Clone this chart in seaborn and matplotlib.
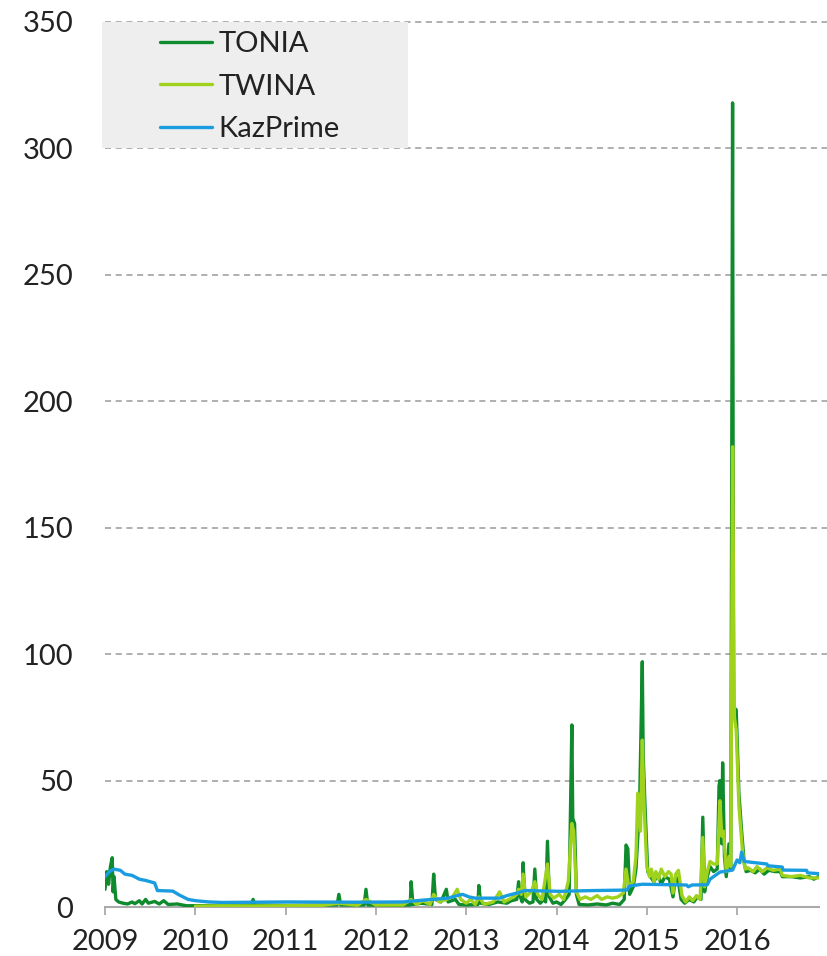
import pandas as pd
import numpy as np
import matplotlib
matplotlib.use("Agg")
import matplotlib.pyplot as plt
from matplotlib.patches import Rectangle
import seaborn as sns

# decimal years and rates
tonia_x = [2009.00, 2009.02, 2009.04, 2009.06, 2009.08, 2009.09, 2009.10, 2009.12, 2009.15, 2009.20,
           2009.25, 2009.30, 2009.33, 2009.38, 2009.41, 2009.45, 2009.48, 2009.55, 2009.60, 2009.65,
           2009.70, 2009.80, 2009.90, 2010.00, 2010.30, 2010.62, 2010.64, 2010.66, 2011.00, 2011.30,
           2011.57, 2011.59, 2011.61, 2011.87, 2011.89, 2011.91, 2012.20, 2012.38, 2012.39, 2012.41,
           2012.50, 2012.62, 2012.64, 2012.66, 2012.72, 2012.78, 2012.80, 2012.88, 2012.92, 2013.00,
           2013.13, 2013.14, 2013.16, 2013.25, 2013.35, 2013.45, 2013.50, 2013.56, 2013.58, 2013.60,
           2013.62, 2013.63, 2013.65, 2013.70, 2013.74, 2013.76, 2013.78, 2013.82, 2013.86, 2013.88,
           2013.90, 2013.92, 2013.96, 2014.00, 2014.05, 2014.10, 2014.14, 2014.17, 2014.18, 2014.20,
           2014.22, 2014.25, 2014.35, 2014.45, 2014.55, 2014.62, 2014.70, 2014.75, 2014.77, 2014.79,
           2014.81, 2014.85, 2014.88, 2014.92, 2014.95, 2014.96, 2014.98, 2015.01, 2015.04, 2015.08,
           2015.12, 2015.16, 2015.20, 2015.25, 2015.29, 2015.32, 2015.35, 2015.38, 2015.42, 2015.47,
           2015.52, 2015.56, 2015.60, 2015.62, 2015.64, 2015.67, 2015.70, 2015.74, 2015.78, 2015.80,
           2015.81, 2015.83, 2015.84, 2015.86, 2015.88, 2015.91, 2015.93, 2015.95, 2015.96, 2015.99,
           2016.02, 2016.05, 2016.08, 2016.10, 2016.15, 2016.20, 2016.25, 2016.30, 2016.35, 2016.42,
           2016.48, 2016.50, 2016.60, 2016.70, 2016.80, 2016.85, 2016.90]
tonia_y = [7, 14, 9, 16, 19.5, 6, 12, 3, 2, 1.5,
           1.2, 2, 1.3, 2.5, 1.2, 3, 1.5, 2.2, 1.2, 2.5,
           1, 1.2, 0.5, 0.5, 0.6, 0.8, 3, 0.8, 0.6, 0.7,
           0.8, 5, 0.8, 0.8, 7, 0.8, 0.7, 0.8, 10, 1,
           1.5, 1, 13, 3, 2, 7, 2, 3, 1, 0.8,
           1, 8.5, 1.5, 1, 2, 1.5, 2.5, 3, 10, 4,
           2, 17.5, 3, 1.5, 2, 15, 3, 1.5, 3, 2,
           26, 4, 1.5, 2, 1, 3, 5, 72, 35, 33,
           5, 1, 0.8, 1.2, 0.8, 1.5, 1, 3, 24.5, 23,
           5, 8, 15, 40, 97, 60, 40, 14, 12, 10,
           13, 9, 12, 11, 4, 12, 10, 3, 1.5, 3,
           2, 4, 3, 35.5, 6, 12, 16, 14, 15, 48,
           50, 25, 57, 20, 12, 25, 15, 318, 79, 78,
           45, 30, 17, 14, 14.5, 13.5, 15, 13, 14.5, 14,
           14, 12, 12, 11.5, 12, 11, 12]

twina_x = [2010.00, 2010.30, 2010.60, 2011.00, 2011.40, 2011.59, 2011.80, 2011.89, 2012.00, 2012.30,
           2012.39, 2012.45, 2012.52, 2012.60, 2012.64, 2012.70, 2012.78, 2012.85, 2012.90, 2012.94,
           2013.00, 2013.05, 2013.10, 2013.14, 2013.20, 2013.30, 2013.37, 2013.42, 2013.50, 2013.56,
           2013.58, 2013.61, 2013.63, 2013.66, 2013.72, 2013.76, 2013.79, 2013.84, 2013.90, 2013.93,
           2013.97, 2014.03, 2014.08, 2014.13, 2014.17, 2014.19, 2014.22, 2014.26, 2014.32, 2014.38,
           2014.45, 2014.50, 2014.56, 2014.62, 2014.68, 2014.74, 2014.77, 2014.80, 2014.85, 2014.88,
           2014.90, 2014.93, 2014.95, 2014.97, 2015.00, 2015.03, 2015.05, 2015.08, 2015.10, 2015.13,
           2015.16, 2015.20, 2015.24, 2015.27, 2015.29, 2015.32, 2015.35, 2015.39, 2015.43, 2015.47,
           2015.51, 2015.55, 2015.59, 2015.62, 2015.64, 2015.67, 2015.70, 2015.74, 2015.78, 2015.81,
           2015.83, 2015.85, 2015.88, 2015.91, 2015.93, 2015.95, 2015.97, 2015.99, 2016.02, 2016.06,
           2016.09, 2016.12, 2016.18, 2016.22, 2016.28, 2016.33, 2016.40, 2016.48, 2016.50, 2016.60,
           2016.70, 2016.80, 2016.90]
twina_y = [0.3, 0.5, 0.4, 0.5, 0.6, 1.5, 0.7, 3, 0.8, 0.8,
           3, 1, 2.5, 1, 5, 2, 3, 4, 7, 3,
           1.5, 3, 1, 4, 1, 2, 6, 2, 3.5, 5,
           7, 5, 13, 4, 6, 10, 5, 3, 17, 5,
           3.5, 5, 3, 10, 33, 30, 6, 3, 4, 3,
           4.5, 3, 4, 3.5, 4, 5.5, 15, 8, 10, 20,
           45, 30, 66, 40, 16, 12, 15, 10, 14, 11,
           15, 12, 14, 13, 5.5, 13, 14.5, 4.5, 2, 4,
           2.5, 4.5, 3, 27.5, 8, 14, 18, 17, 17, 42,
           28, 30, 14, 20, 16, 182, 75, 70, 40, 22,
           15, 15.5, 14, 16, 14, 15.5, 14.5, 15, 12.5, 12,
           12.5, 11.5, 11.5]

kazprime_x = [2009.00, 2009.05, 2009.10, 2009.17, 2009.22, 2009.30, 2009.38, 2009.45, 2009.55, 2009.58,
              2009.75, 2009.82, 2009.92, 2010.00, 2010.15, 2010.30, 2011.00, 2011.80, 2012.30, 2012.55,
              2012.80, 2012.90, 2012.96, 2013.03, 2013.10, 2013.37, 2013.45, 2013.56, 2013.65, 2014.04,
              2014.40, 2014.78, 2014.81, 2014.95, 2015.44, 2015.46, 2015.50, 2015.67, 2015.70, 2015.81,
              2015.95, 2016.00, 2016.03, 2016.05, 2016.08, 2016.33, 2016.34, 2016.50, 2016.51, 2016.77,
              2016.78, 2016.90]
kazprime_y = [12, 14, 15, 14.5, 13, 12.5, 11, 10.5, 9.5, 6.5,
              6.3, 4.8, 3, 2.5, 2, 1.8, 2, 1.9, 2, 2.8,
              3.5, 4.5, 5, 4, 3.5, 3.5, 4.5, 5.5, 6.5, 6.2,
              6.5, 6.7, 8.3, 9, 8.7, 8, 8.7, 8.8, 11, 13.8,
              14.6, 18.6, 17.5, 21.7, 18, 17, 16.3, 15.8, 14.6, 14.5,
              13.5, 13.2]

series_names = ["TONIA", "TWINA", "KazPrime"]
colors = ["#0f8a2c", "#9fd21c", "#1a9de0"]
year_ticks = [2009, 2010, 2011, 2012, 2013, 2014, 2015, 2016]
y_ticks = [0, 50, 100, 150, 200, 250, 300, 350]

df = pd.concat([
    pd.DataFrame({"year": tonia_x, "rate": tonia_y, "series": "TONIA"}),
    pd.DataFrame({"year": twina_x, "rate": twina_y, "series": "TWINA"}),
    pd.DataFrame({"year": kazprime_x, "rate": kazprime_y, "series": "KazPrime"}),
])

sns.set_style("white")
plt.rcParams["font.family"] = ["Lato", "DejaVu Sans"]

W, H = 828, 956
fig = plt.figure(figsize=(W / 100, H / 100), dpi=100)
ax = fig.add_axes([105 / W, (H - 907) / H, 714 / W, 885 / H])

# legend background box
fig.patches.append(Rectangle((102 / W, (H - 148) / H), 306 / W, 126 / H,
                             transform=fig.transFigure, facecolor="#eeeeee",
                             edgecolor="none", zorder=0))
ax.set_facecolor("none")

sns.lineplot(data=df, x="year", y="rate", hue="series", hue_order=series_names,
             palette=colors, estimator=None, sort=False, linewidth=2.4,
             legend=False, ax=ax, zorder=3)

ax.set_xlim(2009, 2009 + 714 / 90.3)
ax.set_ylim(0, 350)
ax.set_xlabel("")
ax.set_ylabel("")

for v in y_ticks[1:]:
    ax.axhline(v, xmin=0, xmax=(828 - 105) / 714, color="#9a9a9a", lw=1.1,
               ls=(0, (4, 3)), clip_on=False, zorder=1)

for s in ["top", "right", "left"]:
    ax.spines[s].set_visible(False)
ax.spines["bottom"].set_color("#aaaaaa")
ax.spines["bottom"].set_linewidth(1.5)

ax.set_xticks(year_ticks)
ax.set_xticklabels([str(y) for y in year_ticks])
ax.set_yticks(y_ticks)
ax.tick_params(axis="x", length=6, width=1.3, color="#aaaaaa", pad=10,
               labelsize=21, labelcolor="#222222", direction="out", bottom=True)
ax.tick_params(axis="y", length=0, pad=23, labelsize=21, labelcolor="#222222")

lines = ax.get_lines()[:3]
leg = fig.legend(lines, series_names, loc="upper left",
                 bbox_to_anchor=(160 / W, (H - 31) / H), frameon=False,
                 fontsize=21, handlelength=1.8, handletextpad=0.2,
                 labelspacing=0.57, borderpad=0, borderaxespad=0)
for t in leg.get_texts():
    t.set_color("#222222")

fig.savefig("out.png", dpi=100)
